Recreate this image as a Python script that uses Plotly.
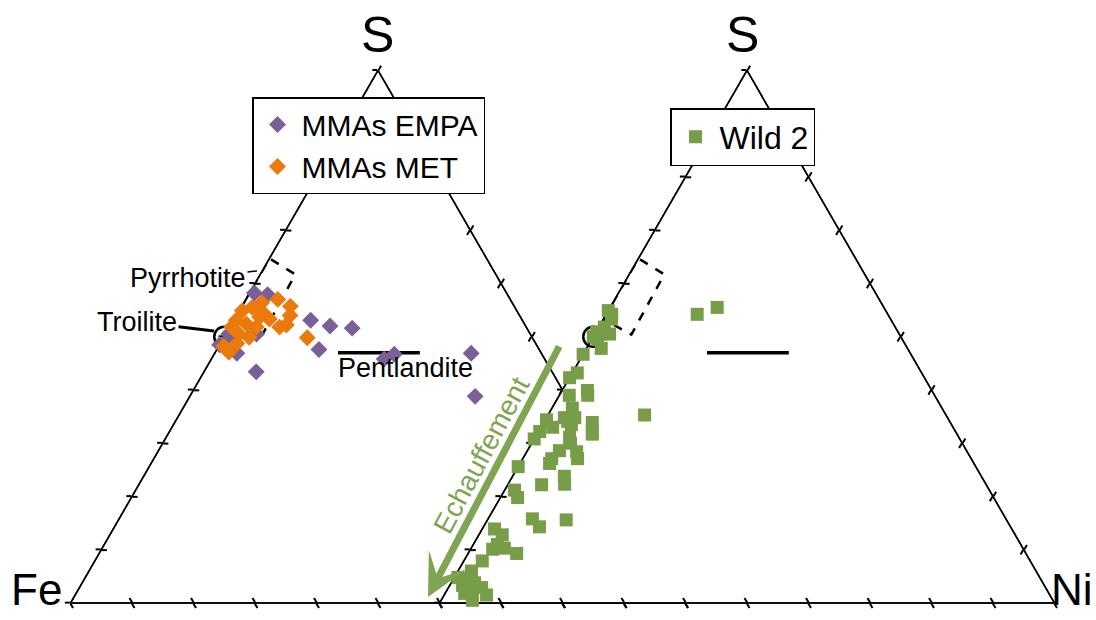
import plotly.graph_objects as go

FONT = "Liberation Sans, Arial, sans-serif"
W, H = 1096, 620

# ---------------- data (atomic %) ----------------
# MMAs EMPA (purple diamonds) - left diagram
empa_S = [58.2, 57.9, 53.1, 52.0, 51.6, 47.6, 45.8, 46.7, 46.9, 38.8,
          43.4, 50.5, 48.7, 48.5, 48.2, 50.4, 50.5, 46.9]
empa_Ni = [0.8, 3.1, 12.5, 16.2, 20.0, 16.6, 28.1, 29.3, 41.7, 46.4,
           8.5, 5.0, 0.9, 0.0, 2.2, 0.6, 0.5, 3.6]

# MMAs MET (orange diamonds) - left diagram
met_S = [57.0, 54.0, 52.2, 51.8, 49.8, 47.1, 54.9, 55.5, 53.7, 53.1,
         52.4, 51.8, 50.5, 49.9, 51.8, 54.6, 53.3, 56.4, 48.7, 55.7, 48.2]
met_Ni = [5.2, 8.7, 9.0, 8.1, 13.6, 2.2, 0.5, 1.8, 3.9, 0.4,
          2.4, 4.3, 2.1, 4.1, 0.3, 3.9, 5.7, 2.9, 2.7, 7.9, 0.8]

# Wild 2 (green squares) - right diagram
wild_S = [54.2, 55.5, 35.3, 54.9, 53.3, 51.8, 50.5, 49.5, 50.5, 47.8,
          46.7, 43.2, 42.3, 39.9, 39.0, 36.6, 34.8, 34.1, 33.9, 32.1,
          34.4, 33.0, 32.2, 30.8, 31.1, 28.6, 27.1, 26.2, 28.4, 25.6,
          23.8, 22.2, 21.2, 19.8, 15.8, 14.3, 15.6, 13.9, 12.8, 11.0,
          10.3, 9.3, 10.1, 7.9, 6.0, 4.6, 3.8, 3.3, 2.9, 1.5,
          2.0, 0.5, 1.8, 31.7, 39.0, 22.3, 27.1, 30.0, 50.9, 54.2,
          50.0, 34.8, 33.5, 4.8]
wild_Ni = [14.8, 17.4, 15.7, 0.0, 1.3, 0.9, 1.1, 0.9, 2.4, 2.4,
           0.0, 0.8, 0.0, 4.1, 1.6, 3.3, 4.6, 3.8, 7.9, 8.8,
           0.2, 1.9, 0.2, 0.0, 5.6, 5.2, 4.7, 4.8, 8.1, 0.0,
           8.4, 5.5, 1.6, 2.8, 7.2, 9.1, 12.8, 2.0, 3.8, 3.9,
           5.4, 7.9, 3.6, 3.0, 2.2, 2.1, 3.8, 2.1, 5.4, 6.9,
           3.9, 5.1, 3.2, 9.0, 4.6, 9.2, 8.9, 6.3, 0.1, 0.9,
           0.0, 2.9, 4.7, 0.6]

# reference minerals
troilite_S = [50.0]
troilite_Ni = [0.0]
pentlandite_S = [47.0, 47.0]
pentlandite_Ni = [20.0, 33.3]
pyrrhotite_S = [53.3, 64.7, 61.7, 50.4, 53.3]
pyrrhotite_Ni = [0.0, 0.0, 5.7, 6.0, 0.0]

PURPLE = "#7A5F99"
ORANGE = "#E97A0B"
GREEN = "#789D48"
GREEN_ARROW = "#7FA553"


def fe(S, Ni):
    return [100 - s - n for s, n in zip(S, Ni)]


def px(x):
    return x / W


def py(y):
    return 1 - y / H


# ---------------- layout geometry (pixels) ----------------
TRI_W = 615.0
LEFT_X0 = 70.5
RIGHT_X0 = 439.5
BASE_Y = 603.0
TRI_H = TRI_W * (3 ** 0.5) / 2


def domain(x0):
    cy = BASE_Y - TRI_H / 2
    half = 280.0
    return dict(x=[x0 / W, (x0 + TRI_W) / W],
                y=[1 - (cy + half) / H, 1 - (cy - half) / H])


def axis(ticks):
    return dict(showgrid=False, showticklabels=False, ticks=ticks, ticklen=5,
                tickwidth=1.5, tickcolor="black", linecolor="black",
                linewidth=1.5, dtick=10, tick0=0, layer="below traces",
                title=dict(text=""), min=0)


def tern(x0, ticks, bg):
    return dict(sum=100, bgcolor=bg, domain=domain(x0),
                aaxis=axis(ticks), baxis=axis(ticks), caxis=axis(ticks))


fig = go.Figure()


def ref_features(sub):
    fig.add_trace(go.Scatterternary(
        a=pyrrhotite_S, b=fe(pyrrhotite_S, pyrrhotite_Ni), c=pyrrhotite_Ni,
        mode="lines", line=dict(color="black", width=2.5, dash="dash"),
        subplot=sub, showlegend=False, cliponaxis=False, hoverinfo="skip"))
    fig.add_trace(go.Scatterternary(
        a=troilite_S, b=fe(troilite_S, troilite_Ni), c=troilite_Ni,
        mode="markers",
        marker=dict(symbol="circle-open", size=20, color="black",
                    line=dict(width=2.5, color="black")),
        subplot=sub, showlegend=False, cliponaxis=False, hoverinfo="skip"))
    fig.add_trace(go.Scatterternary(
        a=pentlandite_S, b=fe(pentlandite_S, pentlandite_Ni), c=pentlandite_Ni,
        mode="lines", line=dict(color="black", width=3.5),
        subplot=sub, showlegend=False, cliponaxis=False, hoverinfo="skip"))


# ternary  : left diagram, inside ticks + reference features
ref_features("ternary")
# ternary2 : left diagram, outside ticks + data
fig.add_trace(go.Scatterternary(
    a=empa_S, b=fe(empa_S, empa_Ni), c=empa_Ni, mode="markers",
    name="MMAs EMPA", marker=dict(symbol="diamond", size=13, color=PURPLE),
    subplot="ternary2", cliponaxis=False, legend="legend"))
fig.add_trace(go.Scatterternary(
    a=met_S, b=fe(met_S, met_Ni), c=met_Ni, mode="markers",
    name="MMAs MET", marker=dict(symbol="diamond", size=13, color=ORANGE),
    subplot="ternary2", cliponaxis=False, legend="legend"))
# ternary3 : right diagram, inside ticks, white background + reference features
ref_features("ternary3")
# ternary4 : right diagram, outside ticks + data
fig.add_trace(go.Scatterternary(
    a=wild_S, b=fe(wild_S, wild_Ni), c=wild_Ni, mode="markers",
    name="Wild 2", marker=dict(symbol="square", size=13, color=GREEN),
    subplot="ternary4", cliponaxis=False, legend="legend2"))

TRANSP = "rgba(0,0,0,0)"


def legend_style(x, y, size):
    return dict(x=px(x), y=py(y), xanchor="left", yanchor="top",
                bgcolor="white", bordercolor="black", borderwidth=1.5,
                font=dict(family=FONT, size=size, color="black"),
                itemwidth=38, tracegroupgap=0)


def label(text, x, y, size, color="black", **kw):
    d = dict(text=text, x=px(x), y=py(y), xanchor="center", yanchor="middle",
             showarrow=False, font=dict(size=size, family=FONT, color=color))
    d.update(kw)
    return d


annotations = [
    label("S", 377, 35, 50),
    label("S", 742, 35, 50),
    label("Fe", 36, 589, 44),
    label("Ni", 1095, 589, 44, xanchor="right"),
    label("Pyrrhotite", 257, 271, 27, showarrow=True, ax=-69, ay=7,
          arrowhead=0, arrowwidth=1.5, arrowcolor="black"),
    label("Troilite", 214, 331, 27, showarrow=True, ax=-77, ay=-9,
          arrowhead=0, arrowwidth=3, arrowcolor="black"),
    label("Pentlandite", 405, 368, 27),
    label("", 428, 597, 10, showarrow=True, ax=132, ay=-252,
          arrowhead=3, arrowsize=1, arrowwidth=7, arrowcolor=GREEN_ARROW),
    label("Echauffement", 481, 455, 28, color=GREEN_ARROW, textangle=-62),
]

fig.update_layout(
    width=W, height=H, margin=dict(l=0, r=0, t=0, b=0),
    paper_bgcolor="white", plot_bgcolor="white",
    font=dict(family=FONT, color="black"),
    ternary=tern(LEFT_X0, "inside", "white"),
    ternary2=tern(LEFT_X0, "outside", TRANSP),
    ternary3=tern(RIGHT_X0, "inside", "white"),
    ternary4=tern(RIGHT_X0, "outside", TRANSP),
    showlegend=True,
    legend=legend_style(252, 97, 30),
    legend2=legend_style(670, 108, 32),
    annotations=annotations,
)

fig.write_html("out.html",
               config={"displayModeBar": False},
               post_script="document.body.style.margin='0';"
                           "document.body.style.overflow='hidden';")
